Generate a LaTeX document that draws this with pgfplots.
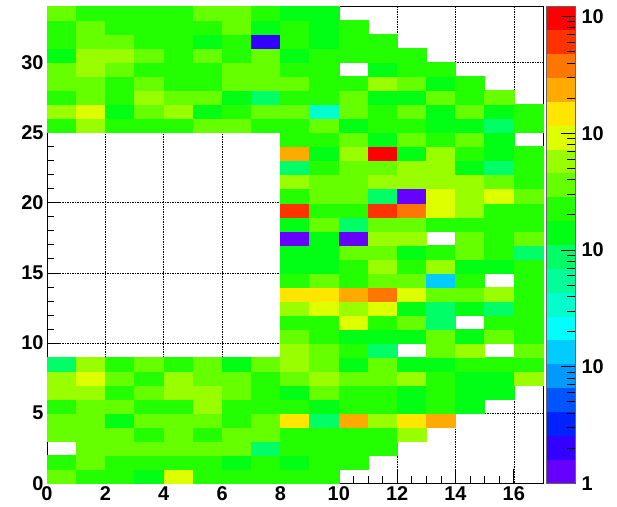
\documentclass[border=0pt]{standalone}
\usepackage{fontspec}
\setmainfont{Liberation Sans}
\usepackage{pgfplots}
\pgfplotsset{compat=1.18}
\usepackage{pgfplotstable}

\pgfdeclareplotmark{cell}{%
  \pgfpathrectangle{\pgfpoint{-14.588bp}{-7.015bp}}{\pgfpoint{29.176bp}{14.029bp}}%
  \pgfusepathqfillstroke}

\pgfplotstableread[row sep=\\]{
x y c \\
0.5 0.5 358 \\ 1.5 0.5 223 \\ 2.5 0.5 223 \\ 3.5 0.5 140 \\ 4.5 0.5 917 \\ 5.5 0.5 223 \\ 6.5 0.5 223 \\ 7.5 0.5 223 \\ 8.5 0.5 223 \\ 9.5 0.5 223 \\
0.5 1.5 223 \\ 1.5 1.5 358 \\ 2.5 1.5 223 \\ 3.5 1.5 223 \\ 4.5 1.5 223 \\ 5.5 1.5 223 \\ 6.5 1.5 140 \\ 7.5 1.5 223 \\ 8.5 1.5 140 \\ 9.5 1.5 223 \\ 10.5 1.5 223 \\
1.5 2.5 358 \\ 2.5 2.5 358 \\ 3.5 2.5 358 \\ 4.5 2.5 358 \\ 5.5 2.5 358 \\ 6.5 2.5 358 \\ 7.5 2.5 87 \\ 8.5 2.5 223 \\ 9.5 2.5 223 \\ 10.5 2.5 223 \\ 11.5 2.5 223 \\
0.5 3.5 358 \\ 1.5 3.5 358 \\ 2.5 3.5 358 \\ 3.5 3.5 223 \\ 4.5 3.5 358 \\ 5.5 3.5 223 \\ 6.5 3.5 358 \\ 7.5 3.5 358 \\ 8.5 3.5 223 \\ 9.5 3.5 223 \\ 10.5 3.5 223 \\ 11.5 3.5 223 \\ 12.5 3.5 573 \\
0.5 4.5 358 \\ 1.5 4.5 358 \\ 2.5 4.5 140 \\ 3.5 4.5 358 \\ 4.5 4.5 358 \\ 5.5 4.5 358 \\ 6.5 4.5 223 \\ 7.5 4.5 358 \\ 8.5 4.5 1468 \\ 9.5 4.5 87 \\ 10.5 4.5 2350 \\ 11.5 4.5 573 \\ 12.5 4.5 1468 \\ 13.5 4.5 2350 \\
0.5 5.5 223 \\ 1.5 5.5 358 \\ 2.5 5.5 358 \\ 3.5 5.5 223 \\ 4.5 5.5 223 \\ 5.5 5.5 573 \\ 6.5 5.5 223 \\ 7.5 5.5 223 \\ 8.5 5.5 223 \\ 9.5 5.5 140 \\ 10.5 5.5 223 \\ 11.5 5.5 223 \\ 12.5 5.5 140 \\ 13.5 5.5 223 \\ 14.5 5.5 140 \\
0.5 6.5 573 \\ 1.5 6.5 573 \\ 2.5 6.5 223 \\ 3.5 6.5 358 \\ 4.5 6.5 573 \\ 5.5 6.5 573 \\ 6.5 6.5 358 \\ 7.5 6.5 223 \\ 8.5 6.5 140 \\ 9.5 6.5 358 \\ 10.5 6.5 223 \\ 11.5 6.5 223 \\ 12.5 6.5 140 \\ 13.5 6.5 223 \\ 14.5 6.5 140 \\ 15.5 6.5 140 \\
0.5 7.5 573 \\ 1.5 7.5 917 \\ 2.5 7.5 358 \\ 3.5 7.5 223 \\ 4.5 7.5 573 \\ 5.5 7.5 358 \\ 6.5 7.5 358 \\ 7.5 7.5 223 \\ 8.5 7.5 358 \\ 9.5 7.5 573 \\ 10.5 7.5 358 \\ 11.5 7.5 358 \\ 12.5 7.5 573 \\ 13.5 7.5 223 \\ 14.5 7.5 140 \\ 15.5 7.5 140 \\ 16.5 7.5 573 \\
0.5 8.5 87 \\ 1.5 8.5 573 \\ 2.5 8.5 223 \\ 3.5 8.5 358 \\ 4.5 8.5 223 \\ 5.5 8.5 358 \\ 6.5 8.5 140 \\ 7.5 8.5 358 \\ 8.5 8.5 573 \\ 9.5 8.5 358 \\ 10.5 8.5 140 \\ 11.5 8.5 358 \\ 12.5 8.5 140 \\ 13.5 8.5 140 \\ 14.5 8.5 223 \\ 15.5 8.5 223 \\ 16.5 8.5 223 \\
8.5 9.5 573 \\ 9.5 9.5 358 \\ 10.5 9.5 223 \\ 11.5 9.5 87 \\ 13.5 9.5 358 \\ 14.5 9.5 573 \\ 16.5 9.5 358 \\
8.5 10.5 358 \\ 9.5 10.5 223 \\ 10.5 10.5 140 \\ 11.5 10.5 140 \\ 12.5 10.5 140 \\ 13.5 10.5 358 \\ 14.5 10.5 140 \\ 15.5 10.5 358 \\ 16.5 10.5 223 \\
8.5 11.5 223 \\ 9.5 11.5 223 \\ 10.5 11.5 917 \\ 11.5 11.5 223 \\ 12.5 11.5 358 \\ 13.5 11.5 87 \\ 15.5 11.5 223 \\ 16.5 11.5 223 \\
8.5 12.5 573 \\ 9.5 12.5 917 \\ 10.5 12.5 573 \\ 11.5 12.5 917 \\ 12.5 12.5 140 \\ 13.5 12.5 87 \\ 14.5 12.5 140 \\ 15.5 12.5 87 \\ 16.5 12.5 223 \\
8.5 13.5 1468 \\ 9.5 13.5 1468 \\ 10.5 13.5 2350 \\ 11.5 13.5 3760 \\ 12.5 13.5 917 \\ 13.5 13.5 358 \\ 14.5 13.5 358 \\ 15.5 13.5 573 \\ 16.5 13.5 223 \\
8.5 14.5 223 \\ 9.5 14.5 358 \\ 10.5 14.5 223 \\ 11.5 14.5 358 \\ 12.5 14.5 358 \\ 13.5 14.5 13.3 \\ 14.5 14.5 223 \\ 16.5 14.5 223 \\
8.5 15.5 140 \\ 9.5 15.5 140 \\ 10.5 15.5 223 \\ 11.5 15.5 573 \\ 12.5 15.5 223 \\ 13.5 15.5 573 \\ 14.5 15.5 140 \\ 15.5 15.5 140 \\ 16.5 15.5 223 \\
8.5 16.5 140 \\ 9.5 16.5 140 \\ 10.5 16.5 358 \\ 11.5 16.5 358 \\ 12.5 16.5 140 \\ 13.5 16.5 223 \\ 14.5 16.5 358 \\ 15.5 16.5 223 \\ 16.5 16.5 87 \\
8.5 17.5 1.26 \\ 9.5 17.5 140 \\ 10.5 17.5 1.26 \\ 11.5 17.5 573 \\ 12.5 17.5 573 \\ 14.5 17.5 358 \\ 15.5 17.5 223 \\ 16.5 17.5 358 \\
8.5 18.5 140 \\ 9.5 18.5 358 \\ 10.5 18.5 87 \\ 11.5 18.5 358 \\ 12.5 18.5 358 \\ 13.5 18.5 223 \\ 14.5 18.5 223 \\ 15.5 18.5 223 \\ 16.5 18.5 223 \\
8.5 19.5 6020 \\ 9.5 19.5 223 \\ 10.5 19.5 223 \\ 11.5 19.5 6020 \\ 12.5 19.5 3760 \\ 13.5 19.5 917 \\ 14.5 19.5 573 \\ 15.5 19.5 223 \\ 16.5 19.5 223 \\
8.5 20.5 223 \\ 9.5 20.5 358 \\ 10.5 20.5 358 \\ 11.5 20.5 87 \\ 12.5 20.5 1.26 \\ 13.5 20.5 917 \\ 14.5 20.5 573 \\ 15.5 20.5 917 \\ 16.5 20.5 358 \\
8.5 21.5 573 \\ 9.5 21.5 358 \\ 10.5 21.5 358 \\ 11.5 21.5 573 \\ 12.5 21.5 573 \\ 13.5 21.5 573 \\ 14.5 21.5 573 \\ 15.5 21.5 358 \\ 16.5 21.5 223 \\
8.5 22.5 87 \\ 9.5 22.5 223 \\ 10.5 22.5 358 \\ 11.5 22.5 358 \\ 12.5 22.5 573 \\ 13.5 22.5 573 \\ 14.5 22.5 140 \\ 15.5 22.5 87 \\ 16.5 22.5 223 \\
8.5 23.5 2350 \\ 9.5 23.5 140 \\ 10.5 23.5 573 \\ 11.5 23.5 9640 \\ 12.5 23.5 140 \\ 13.5 23.5 573 \\ 14.5 23.5 223 \\ 15.5 23.5 140 \\ 16.5 23.5 223 \\
8.5 24.5 223 \\ 9.5 24.5 223 \\ 10.5 24.5 358 \\ 11.5 24.5 140 \\ 12.5 24.5 358 \\ 13.5 24.5 223 \\ 14.5 24.5 358 \\ 15.5 24.5 140 \\
0.5 25.5 223 \\ 1.5 25.5 573 \\ 2.5 25.5 223 \\ 3.5 25.5 223 \\ 4.5 25.5 223 \\ 5.5 25.5 358 \\ 6.5 25.5 358 \\ 7.5 25.5 223 \\ 8.5 25.5 223 \\ 9.5 25.5 358 \\ 10.5 25.5 140 \\ 11.5 25.5 223 \\ 12.5 25.5 223 \\ 13.5 25.5 140 \\ 14.5 25.5 140 \\ 15.5 25.5 87 \\ 16.5 25.5 223 \\
0.5 26.5 573 \\ 1.5 26.5 917 \\ 2.5 26.5 140 \\ 3.5 26.5 358 \\ 4.5 26.5 573 \\ 5.5 26.5 140 \\ 6.5 26.5 223 \\ 7.5 26.5 358 \\ 8.5 26.5 358 \\ 9.5 26.5 34 \\ 10.5 26.5 358 \\ 11.5 26.5 223 \\ 12.5 26.5 358 \\ 13.5 26.5 140 \\ 14.5 26.5 358 \\ 15.5 26.5 140 \\ 16.5 26.5 223 \\
0.5 27.5 223 \\ 1.5 27.5 358 \\ 2.5 27.5 223 \\ 3.5 27.5 573 \\ 4.5 27.5 358 \\ 5.5 27.5 358 \\ 6.5 27.5 140 \\ 7.5 27.5 87 \\ 8.5 27.5 223 \\ 9.5 27.5 223 \\ 10.5 27.5 358 \\ 11.5 27.5 140 \\ 12.5 27.5 140 \\ 13.5 27.5 358 \\ 14.5 27.5 223 \\ 15.5 27.5 358 \\
0.5 28.5 358 \\ 1.5 28.5 358 \\ 2.5 28.5 223 \\ 3.5 28.5 358 \\ 4.5 28.5 223 \\ 5.5 28.5 223 \\ 6.5 28.5 358 \\ 7.5 28.5 358 \\ 8.5 28.5 358 \\ 9.5 28.5 223 \\ 10.5 28.5 223 \\ 11.5 28.5 573 \\ 12.5 28.5 358 \\ 13.5 28.5 140 \\ 14.5 28.5 223 \\
0.5 29.5 358 \\ 1.5 29.5 573 \\ 2.5 29.5 358 \\ 3.5 29.5 223 \\ 4.5 29.5 223 \\ 5.5 29.5 223 \\ 6.5 29.5 358 \\ 7.5 29.5 358 \\ 8.5 29.5 223 \\ 9.5 29.5 223 \\ 11.5 29.5 140 \\ 12.5 29.5 223 \\ 13.5 29.5 223 \\
0.5 30.5 140 \\ 1.5 30.5 573 \\ 2.5 30.5 573 \\ 3.5 30.5 358 \\ 4.5 30.5 223 \\ 5.5 30.5 358 \\ 6.5 30.5 223 \\ 7.5 30.5 358 \\ 8.5 30.5 140 \\ 9.5 30.5 223 \\ 10.5 30.5 223 \\ 11.5 30.5 223 \\ 12.5 30.5 223 \\
0.5 31.5 223 \\ 1.5 31.5 358 \\ 2.5 31.5 358 \\ 3.5 31.5 223 \\ 4.5 31.5 223 \\ 5.5 31.5 140 \\ 6.5 31.5 223 \\ 7.5 31.5 2.02 \\ 8.5 31.5 223 \\ 9.5 31.5 140 \\ 10.5 31.5 223 \\ 11.5 31.5 223 \\
0.5 32.5 223 \\ 1.5 32.5 358 \\ 2.5 32.5 223 \\ 3.5 32.5 223 \\ 4.5 32.5 223 \\ 5.5 32.5 223 \\ 6.5 32.5 358 \\ 7.5 32.5 140 \\ 8.5 32.5 223 \\ 9.5 32.5 140 \\ 10.5 32.5 223 \\
0.5 33.5 358 \\ 1.5 33.5 223 \\ 2.5 33.5 223 \\ 3.5 33.5 223 \\ 4.5 33.5 223 \\ 5.5 33.5 358 \\ 6.5 33.5 358 \\ 7.5 33.5 223 \\ 8.5 33.5 140 \\ 9.5 33.5 140 \\
}\hist

\begin{document}
\begin{tikzpicture}
\useasboundingbox (-47bp,-23.7bp) rectangle (570bp,483.3bp);
\begin{axis}[
  at={(0,0)}, anchor=south west,
  scale only axis, width=496bp, height=477bp,
  xmin=0, xmax=17, ymin=0, ymax=34,
  xtick={0,2,...,16}, ytick={0,5,...,30},
  minor x tick num=3, minor y tick num=4,
  tick align=inside, tick pos=left,
  major tick length=14bp, minor tick length=7bp,
  tick style={black, line width=0.7bp},
  axis line style={black, line width=0.7bp},
  grid=major,
  major grid style={black, line width=0.6bp, dash pattern=on 2bp off 1.2bp on 0.6bp off 1.2bp},
  axis on top,
  ticklabel style={font=\bfseries\fontsize{20}{20}\selectfont},
  /pgf/number format/assume math mode=true,
  colormap={root}{rgb255=(102,0,255) rgb255=(51,0,255) rgb255=(0,34,255) rgb255=(0,85,255) rgb255=(0,153,255) rgb255=(0,204,255) rgb255=(0,255,255) rgb255=(0,255,204) rgb255=(0,255,153) rgb255=(0,255,102) rgb255=(0,255,20) rgb255=(35,255,0) rgb255=(102,255,0) rgb255=(153,255,0) rgb255=(221,255,0) rgb255=(255,230,0) rgb255=(255,170,0) rgb255=(255,119,0) rgb255=(255,51,0) rgb255=(255,0,0)},
  colormap access=piecewise constant,
  point meta min=0, point meta max=4.087,
  colorbar,
  colorbar style={
    at={(parent axis.north east)}, anchor=north west, xshift=-5.5bp,
    scale only axis, width=29bp, height=477bp,
    ytick={0,1,2,3,4}, yticklabels={1,10,10,10,10},
    minor ytick={0.301,0.477,0.602,0.699,0.778,0.845,0.903,0.954,1.301,1.477,1.602,1.699,1.778,1.845,1.903,1.954,2.301,2.477,2.602,2.699,2.778,2.845,2.903,2.954,3.301,3.477,3.602,3.699,3.778,3.845,3.903,3.954},
    tick align=inside, ytick pos=right, yticklabel pos=right,
    major tick length=14bp, minor tick length=8bp,
    tick style={black, line width=0.7bp},
    axis line style={black!60, line width=0.7bp},
    yticklabel style={font=\bfseries\fontsize{20}{20}\selectfont, xshift=3bp},
  },
]
\addplot[scatter, only marks, mark=cell, line width=0.4bp,
  scatter/use mapped color={draw=mapped color, fill=mapped color},
  point meta={ln(\thisrow{c})/ln(10)}] table[x=x, y=y] {\hist};
\end{axis}
\end{tikzpicture}
\end{document}
